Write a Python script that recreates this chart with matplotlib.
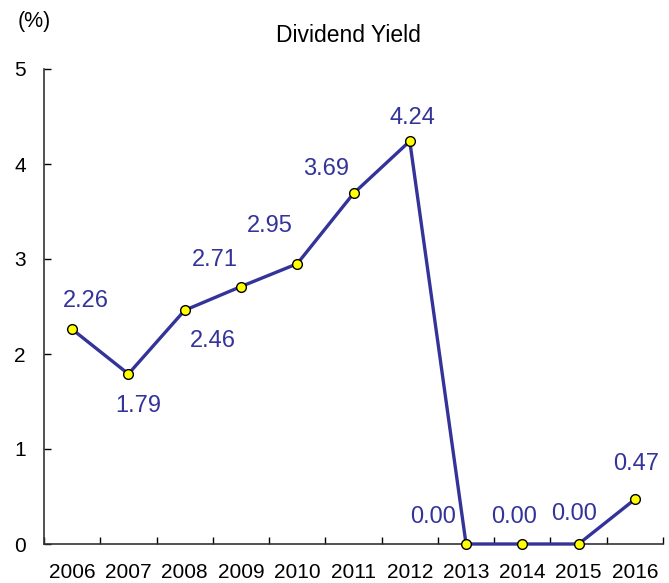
import matplotlib.pyplot as plt
import numpy as np

years = ['2006', '2007', '2008', '2009', '2010', '2011',
         '2012', '2013', '2014', '2015', '2016']
dividend_yield = [2.26, 1.79, 2.46, 2.71, 2.95, 3.69, 4.24, 0.00, 0.00, 0.00, 0.47]

# label offsets in pixels, relative to each point
label_offsets = [(14, 28), (10, -32), (28, -31), (-26, 27), (-27, 38), (-27, 24),
                 (3, 23), (-33, 27), (-8, 27), (-5, 30), (1, 35)]

line_color = '#333399'
plt.rcParams['font.family'] = ['Liberation Sans', 'DejaVu Sans']

fig = plt.figure(figsize=(6.69, 5.83), dpi=100)
ax = fig.add_axes([44 / 669, 39 / 583, 619 / 669, 475 / 583])

x = np.arange(len(years))
ax.plot(x, dividend_yield, color=line_color, linewidth=2.4, marker='o',
        markersize=7, markerfacecolor='#ffff00', markeredgecolor='black',
        markeredgewidth=1.0, zorder=3, clip_on=False)

for xi, val, (dx, dy) in zip(x, dividend_yield, label_offsets):
    ax.annotate(f'{val:.2f}', (xi, val), xytext=(dx, dy), textcoords='offset pixels',
                ha='center', va='center', color=line_color, fontsize=17)

ax.set_xlim(-0.5, len(years) - 0.5)
ax.set_ylim(0, 5)
ax.set_yticks(range(0, 6))
ax.tick_params(axis='y', direction='in', length=5, width=1, pad=13, labelsize=15)

# ticks on category boundaries, labels at category centres
ax.set_xticks(np.arange(-0.5, len(years), 1.0))
ax.set_xticklabels([])
ax.set_xticks(x, minor=True)
ax.set_xticklabels(years, minor=True)
ax.tick_params(axis='x', which='major', direction='in', length=5, width=1)
ax.tick_params(axis='x', which='minor', length=0, pad=14, labelsize=15)

for side in ['top', 'right']:
    ax.spines[side].set_visible(False)
for side in ['left', 'bottom']:
    ax.spines[side].set_color('#333333')
    ax.spines[side].set_linewidth(1.2)

fig.text(348 / 669, 1 - 36 / 583, 'Dividend Yield', ha='center', va='center', fontsize=16.5)
fig.text(34 / 669, 1 - 21 / 583, '(%)', ha='center', va='center', fontsize=15.5)

fig.savefig('out.png', dpi=100)
